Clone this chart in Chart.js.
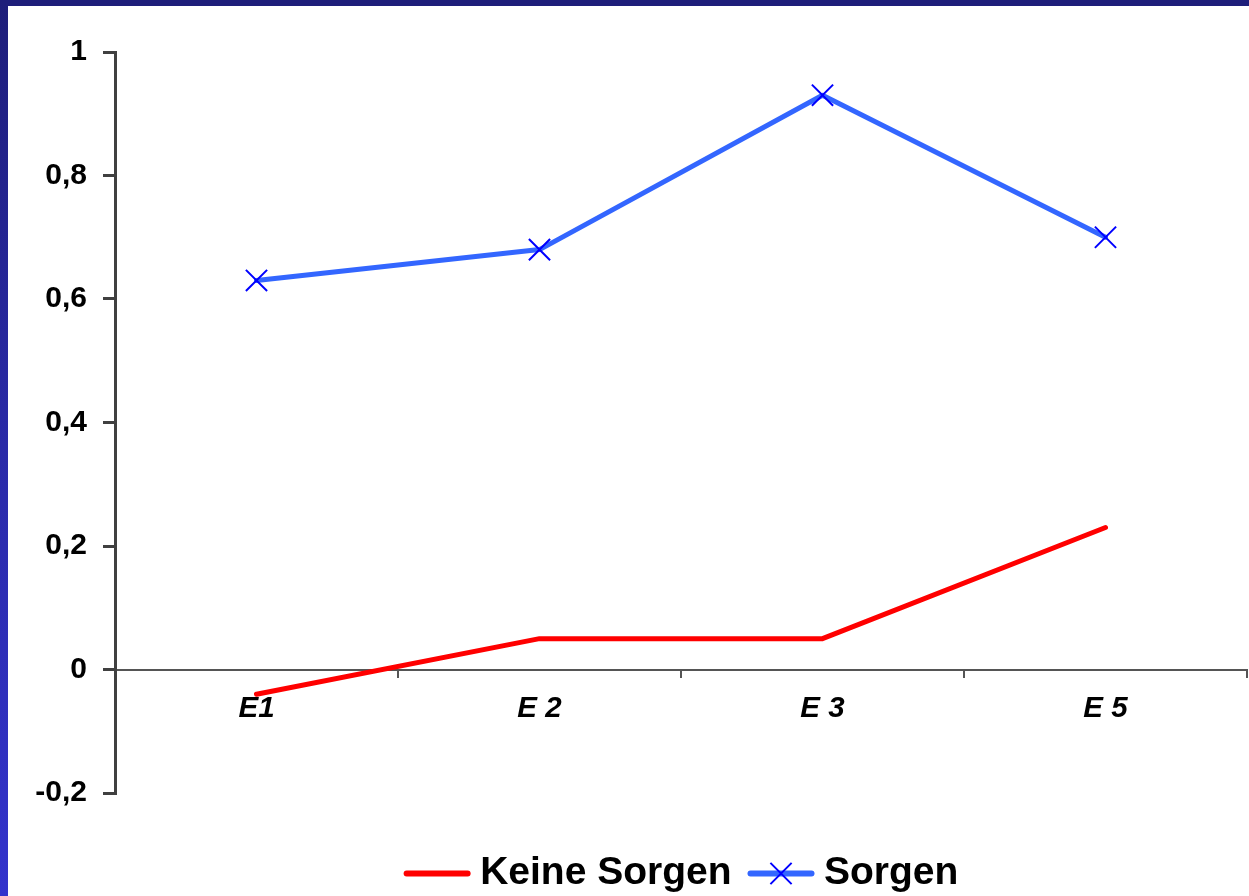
<!DOCTYPE html>
<html>
<head>
<meta charset="utf-8">
<script src="https://cdn.jsdelivr.net/npm/chart.js@4/dist/chart.umd.min.js"></script>
<style>
  html, body { margin: 0; padding: 0; }
  body { width: 1249px; height: 896px; overflow: hidden; position: relative; background: #ffffff; }
  #frameTop { position: absolute; left: 0; top: 0; width: 1249px; height: 6px; background: #1e1e7a; }
  #frameLeft { position: absolute; left: 0; top: 0; width: 8px; height: 896px;
               background: linear-gradient(to bottom, #1e1e7a 0%, #2a2aa8 50%, #3333cc 100%); }
  #wrap { position: absolute; left: 8px; top: 6px; width: 1241px; height: 890px; background: #ffffff; }
  canvas { display: block; }
</style>
</head>
<body>
<div id="frameTop"></div>
<div id="frameLeft"></div>
<div id="wrap"><canvas id="chart" width="1241" height="890"></canvas></div>
<script>
// Survey waves on the category axis
const categories = ['E1', 'E 2', 'E 3', 'E 5'];

// Series values per wave
const keineSorgen = [-0.04, 0.05, 0.05, 0.23];
const sorgen = [0.63, 0.68, 0.93, 0.70];

// Value-axis ticks and their German-formatted labels
const yTickValues = [-0.2, 0, 0.2, 0.4, 0.6, 0.8, 1];
const yTickLabels = ['-0,2', '0', '0,2', '0,4', '0,6', '0,8', '1'];

const FONT = "'Liberation Sans', Arial, Helvetica, sans-serif";
const AXIS_COLOR = '#404040';

// Legend samples: a short line (with the series marker, if any) drawn into each legend box
const legendSamples = {
  id: 'legendSamples',
  afterDraw(chart) {
    const legend = chart.legend;
    if (!legend || !legend.legendHitBoxes) return;
    const ctx = chart.ctx;
    legend.legendHitBoxes.forEach((hb, i) => {
      const ds = chart.data.datasets[i];
      const cy = hb.top + hb.height / 2;
      const x0 = hb.left + 3, x1 = hb.left + 64;
      ctx.save();
      ctx.strokeStyle = ds.borderColor;
      ctx.lineWidth = 6;
      ctx.lineCap = 'round';
      ctx.beginPath();
      ctx.moveTo(x0, cy);
      ctx.lineTo(x1, cy);
      ctx.stroke();
      if (ds.pointRadius > 0) {
        const cx = (x0 + x1) / 2;
        const r = ds.pointRadius * Math.SQRT1_2;
        ctx.strokeStyle = ds.pointBorderColor;
        ctx.lineWidth = ds.pointBorderWidth;
        ctx.lineCap = 'butt';
        ctx.beginPath();
        ctx.moveTo(cx - r, cy - r); ctx.lineTo(cx + r, cy + r);
        ctx.moveTo(cx + r, cy - r); ctx.lineTo(cx - r, cy + r);
        ctx.stroke();
      }
      ctx.restore();
    });
  }
};

new Chart(document.getElementById('chart'), {
  type: 'line',
  data: {
    labels: categories,
    datasets: [
      {
        label: 'Keine Sorgen',
        data: keineSorgen,
        borderColor: '#ff0000',
        backgroundColor: '#ff0000',
        borderWidth: 5,
        borderCapStyle: 'round',
        borderJoinStyle: 'round',
        pointRadius: 0,
        pointHoverRadius: 0,
        tension: 0,
        fill: false
      },
      {
        label: 'Sorgen',
        data: sorgen,
        borderColor: '#3366ff',
        backgroundColor: '#0000ff',
        borderWidth: 5,
        borderCapStyle: 'round',
        borderJoinStyle: 'round',
        pointStyle: 'crossRot',
        pointRadius: 15,
        pointHoverRadius: 15,
        pointBorderColor: '#0000ff',
        pointBorderWidth: 2,
        tension: 0,
        fill: false
      }
    ]
  },
  options: {
    responsive: false,
    animation: false,
    devicePixelRatio: 1,
    events: [],
    layout: { autoPadding: false, padding: { top: 46, right: 2, left: 0, bottom: 0 } },
    scales: {
      x: {
        type: 'category',
        position: { y: 0 },
        offset: true,
        border: { display: true, color: '#555555', width: 2 },
        grid: {
          display: true,
          offset: true,
          drawOnChartArea: false,
          drawTicks: true,
          tickLength: 7,
          tickWidth: 2,
          color: '#555555',
          lineWidth: 2
        },
        ticks: {
          color: '#000000',
          padding: 15,
          maxRotation: 0,
          font: { family: FONT, size: 29.5, weight: 'bold', style: 'italic' }
        }
      },
      y: {
        type: 'linear',
        position: 'left',
        min: -0.2,
        max: 1,
        afterFit(scale) { scale.width = 107; },
        afterBuildTicks(scale) { scale.ticks = yTickValues.map(v => ({ value: v })); },
        border: { display: true, color: AXIS_COLOR, width: 3 },
        grid: {
          display: true,
          drawOnChartArea: false,
          drawTicks: true,
          tickLength: 12,
          tickWidth: 3,
          color: AXIS_COLOR,
          lineWidth: 3
        },
        ticks: {
          color: '#000000',
          padding: 16,
          font: { family: FONT, size: 30, weight: 'bold' },
          callback(value) {
            const i = yTickValues.findIndex(v => Math.abs(v - value) < 1e-9);
            return i >= 0 ? yTickLabels[i] : '';
          }
        }
      }
    },
    plugins: {
      tooltip: { enabled: false },
      title: { display: false },
      legend: {
        display: true,
        position: 'bottom',
        align: 'center',
        fullSize: false,
        maxHeight: 103,
        title: {
          display: true,
          text: ' ',
          font: { size: 10 },
          padding: { top: 0, bottom: 33 }
        },
        labels: {
          boxWidth: 57,
          boxHeight: 6,
          padding: 16,
          color: '#000000',
          font: { family: FONT, size: 39, weight: 'bold' },
          generateLabels(chart) {
            return chart.data.datasets.map((ds, i) => ({
              text: ds.label,
              fillStyle: 'rgba(0,0,0,0)',
              strokeStyle: 'rgba(0,0,0,0)',
              lineWidth: 0,
              hidden: false,
              datasetIndex: i,
              fontColor: '#000000'
            }));
          }
        }
      }
    }
  },
  plugins: [legendSamples]
});
</script>
</body>
</html>
